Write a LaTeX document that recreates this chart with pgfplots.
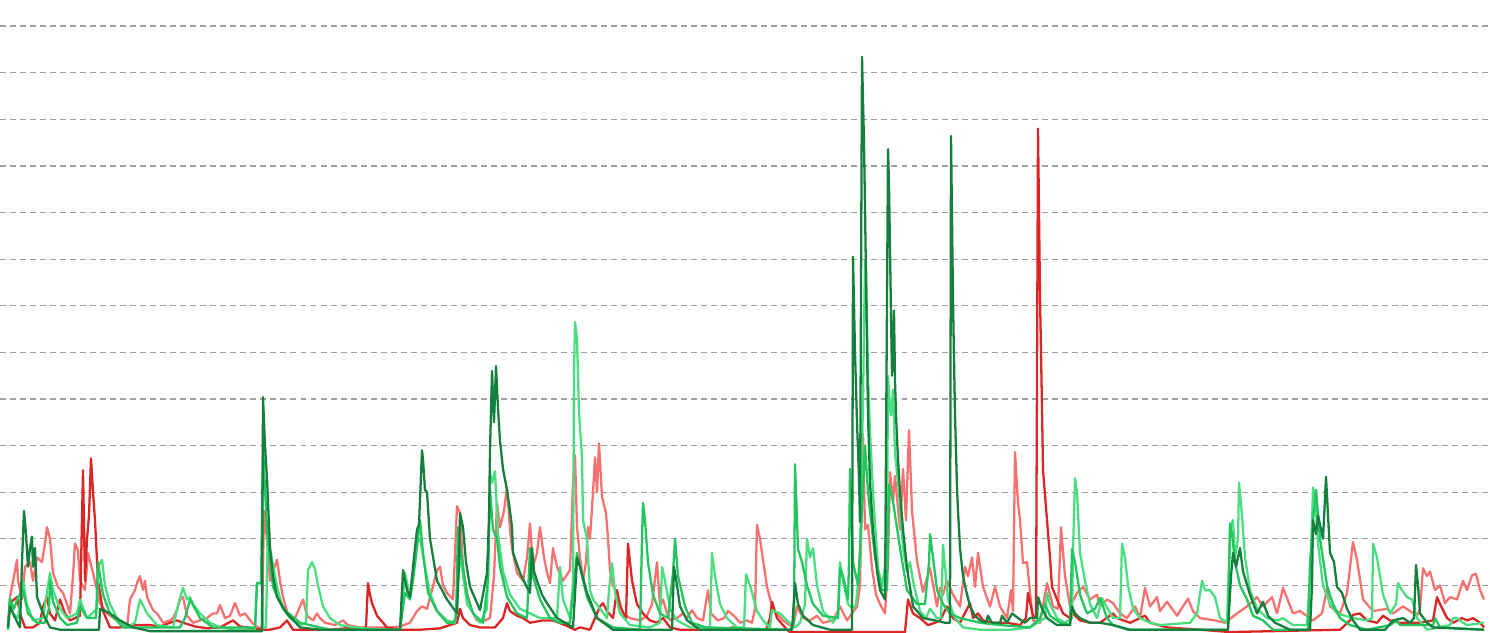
\documentclass[border=0pt]{standalone}
\usepackage{pgfplots}
\pgfplotsset{compat=1.18}
\definecolor{lred}{HTML}{F87171}
\definecolor{dred}{HTML}{DC2626}
\definecolor{lgreen}{HTML}{4ADE80}
\definecolor{mgreen}{HTML}{22C55E}
\definecolor{dgreen}{HTML}{15803D}
\begin{document}
\begin{tikzpicture}[trim axis left, trim axis right]
\begin{axis}[
  scale only axis,
  width=14.9cm, height=6.33cm,
  xmin=0, xmax=1490, ymin=-0.02, ymax=13.56,
  axis line style={draw=none},
  major tick length=0pt,
  xtick=\empty,
  ytick={1,...,13}, yticklabels={},
  yticklabel style={overlay},
  ymajorgrids,
  grid style={gray!75, line width=0.35pt, dash pattern=on 1.7pt off 1.15pt},
  every axis plot/.append style={line width=0.65pt, line join=round, mark=none},
  clip=true,
]
% light red
\addplot[lred] coordinates {
(8,0.1)(10,0.75)(14,1.2)(17,1.55)(18,1.1)(22,0.7)(25,1.4)(30,1.5)(33,1.1)(37,1.6)(42,1.5)(45,1.9)(47,2.25)(50,2.0)(53,1.27)(58,0.97)(63,0.84)(67,0.6)(70,0.4)(73,1.2)(75,1.9)(78,1.75)(80,1.1)(85,0.9)(88,1.7)(93,1.27)(100,0.62)(107,0.4)(117,0.25)(127,0.1)(130,0.7)(135,0.9)(137,1.05)(140,1.2)(143,0.9)(145,1.1)(147,0.75)(153,0.47)(157,0.4)(163,0.2)(170,0.25)(173,0.3)(177,0.47)(180,0.7)(183,0.75)(187,0.35)(193,0.2)(200,0.25)(207,0.3)(213,0.4)(217,0.4)(220,0.58)(225,0.3)(230,0.35)(235,0.62)(240,0.35)(245,0.4)(252,0.2)(258,0.1)(262,0.1)(264,2.6)(267,2.0)(270,1.1)(273,1.3)(277,1.55)(280,1.1)(283,0.75)(287,0.45)(290,0.3)(295,0.3)(300,0.55)(303,0.7)(307,0.35)(313,0.25)(317,0.4)(320,0.3)(325,0.2)(335,0.15)(343,0.25)(348,0.15)(360,0.1)(375,0.1)(390,0.1)(400,0.12)(410,0.2)(417,0.45)(422,0.55)(427,0.5)(432,0.9)(437,1.33)(440,1.4)(443,1.0)(447,0.84)(453,0.7)(457,2.7)(460,2.55)(463,1.4)(467,0.84)(472,0.45)(477,0.25)(485,0.25)(490,0.3)(494,1.2)(497,2.76)(500,2.25)(504,2.6)(507,3.1)(510,2.2)(512,1.8)(517,1.27)(523,1.1)(527,1.6)(530,2.33)(533,1.4)(537,1.7)(540,2.25)(544,1.6)(547,1.27)(550,1.05)(553,1.8)(557,1.4)(563,1.1)(570,1.33)(573,3.2)(575,3.8)(577,2.25)(580,1.6)(583,1.1)(586,1.5)(588,2.25)(590,2.0)(593,3.0)(595,3.75)(597,3.0)(599,4.05)(602,2.9)(606,2.55)(608,2.0)(610,1.33)(613,1.0)(617,0.84)(623,0.4)(630,0.3)(640,0.25)(647,0.35)(652,0.6)(657,1.5)(660,0.55)(663,0.7)(667,0.4)(670,0.25)(677,0.3)(683,0.4)(687,0.3)(692,0.47)(697,0.3)(703,0.25)(708,0.9)(711,0.4)(718,0.25)(724,0.3)(728,0.45)(734,0.35)(740,0.2)(747,0.25)(752,0.2)(755,0.5)(757,2.3)(760,2.0)(762,1.7)(767,0.97)(773,0.47)(783,0.25)(793,0.1)(797,0.55)(803,0.3)(810,0.25)(817,0.35)(823,0.2)(833,0.25)(840,0.55)(847,0.25)(857,0.55)(860,1.0)(863,4.25)(865,2.2)(868,2.3)(872,1.37)(876,0.8)(880,0.6)(885,0.4)(888,1.5)(890,3.43)(893,2.8)(895,3.35)(900,2.2)(903,3.5)(906,2.4)(909,4.33)(912,2.6)(917,1.52)(923,0.86)(930,1.37)(937,0.55)(940,0.95)(943,0.8)(947,1.1)(953,0.8)(960,0.55)(965,1.4)(968,1.2)(972,1.6)(975,0.97)(978,1.7)(983,0.97)(990,0.55)(995,0.97)(1000,0.55)(1007,0.3)(1011,0.9)(1013,0.45)(1015,3.86)(1018,2.77)(1020,2.4)(1023,1.48)(1027,1.5)(1030,0.84)(1033,0.25)(1040,0.2)(1047,1.05)(1053,0.55)(1058,0.5)(1061,2.25)(1065,1.2)(1070,0.55)(1077,0.84)(1083,0.97)(1090,0.7)(1097,0.8)(1100,0.55)(1107,0.7)(1113,0.62)(1120,0.4)(1127,0.3)(1135,0.55)(1140,0.3)(1145,0.95)(1150,0.55)(1157,0.75)(1160,0.45)(1167,0.65)(1177,0.35)(1188,0.72)(1193,0.45)(1200,0.3)(1215,0.25)(1225,0.2)(1237,0.4)(1247,0.55)(1257,0.75)(1263,0.55)(1272,0.75)(1277,0.4)(1283,0.95)(1293,0.4)(1300,0.45)(1313,0.25)(1322,0.4)(1327,0.95)(1330,0.55)(1340,0.4)(1347,0.84)(1353,1.93)(1357,1.55)(1363,0.7)(1373,0.45)(1387,0.5)(1393,0.4)(1403,0.55)(1410,0.45)(1417,0.35)(1420,0.5)(1423,1.37)(1427,1.2)(1430,1.3)(1435,0.9)(1440,1.0)(1445,0.62)(1450,0.75)(1457,0.7)(1463,1.1)(1467,0.9)(1472,1.22)(1476,1.25)(1480,0.9)(1484,0.7)
};
% dark red
\addplot[dred] coordinates {
(8,0.1)(10,0.62)(14,0.7)(17,0.75)(20,0.4)(25,0.1)(33,0.1)(40,0.2)(43,0.55)(47,0.75)(50,0.4)(55,0.25)(60,0.7)(65,0.4)(70,0.25)(80,0.35)(83,3.47)(85,1.1)(87,2.0)(89,2.5)(91,3.73)(93,3.0)(95,2.4)(98,1.1)(103,0.45)(110,0.1)(120,0.1)(130,0.15)(140,0.15)(150,0.15)(160,0.12)(170,0.2)(177,0.25)(183,0.2)(195,0.12)(207,0.08)(220,0.1)(233,0.25)(240,0.12)(253,0.08)(263,0.05)(270,0.05)(280,0.1)(287,0.25)(293,0.05)(310,0.05)(330,0.05)(345,0.08)(360,0.08)(366,0.1)(368,1.05)(370,0.8)(372,0.62)(377,0.35)(387,0.1)(400,0.05)(420,0.05)(440,0.08)(457,0.2)(460,0.5)(463,0.3)(470,0.15)(480,0.1)(495,0.1)(503,0.3)(507,0.62)(510,0.45)(517,0.35)(523,0.3)(530,0.2)(543,0.25)(553,0.25)(565,0.15)(575,0.05)(580,0.1)(590,0.05)(600,0.55)(603,0.62)(607,0.45)(613,0.3)(617,0.9)(620,0.55)(626,0.3)(628,1.9)(632,1.1)(637,0.6)(643,0.4)(650,0.25)(657,0.2)(663,0.3)(670,0.1)(680,0.05)(700,0.05)(720,0.05)(733,0.1)(745,0.05)(766,0.05)(770,0.3)(772,0.65)(777,0.3)(787,0.05)(790,0.0)(905,0.0)(908,0.7)(913,0.4)(920,0.3)(928,0.15)(935,0.2)(940,0.25)(947,0.55)(953,0.3)(960,0.2)(970,0.62)(973,0.3)(978,0.4)(983,0.25)(993,0.2)(1007,0.2)(1020,0.15)(1026,0.3)(1028,0.84)(1033,0.35)(1036,0.3)(1038,10.8)(1040,7.2)(1042,4.8)(1043,3.47)(1047,2.4)(1050,1.6)(1052,0.97)(1057,0.7)(1063,0.4)(1070,0.3)(1073,0.4)(1080,0.25)(1090,0.2)(1100,0.2)(1113,0.4)(1117,0.3)(1130,0.2)(1145,0.35)(1150,0.2)(1167,0.1)(1200,0.05)(1230,0.0)(1340,0.05)(1350,0.25)(1353,0.37)(1360,0.4)(1367,0.25)(1377,0.2)(1383,0.35)(1390,0.25)(1400,0.2)(1420,0.2)(1433,0.25)(1437,0.75)(1440,0.6)(1447,0.3)(1453,0.2)(1462,0.3)(1467,0.25)(1473,0.3)(1480,0.2)(1484,0.1)
};
% light green
\addplot[lgreen] coordinates {
(8,0.1)(10,0.75)(13,0.4)(18,0.3)(23,1.1)(27,0.6)(33,0.25)(43,0.3)(50,1.27)(53,0.9)(60,0.5)(67,0.3)(77,0.4)(80,0.7)(87,0.3)(97,0.5)(98,1.4)(102,1.55)(105,1.0)(110,0.6)(117,0.3)(127,0.1)(135,0.2)(140,0.7)(147,0.4)(157,0.15)(173,0.1)(178,0.58)(183,0.95)(187,0.7)(190,0.75)(193,0.6)(200,0.4)(210,0.2)(220,0.1)(237,0.05)(255,0.05)(257,1.05)(262,1.05)(263,0.1)(266,0.1)(268,2.4)(270,1.8)(277,0.97)(283,0.5)(290,0.3)(300,0.15)(306,0.2)(308,1.33)(312,1.5)(315,1.35)(318,1.0)(323,0.55)(330,0.3)(340,0.15)(355,0.1)(380,0.05)(400,0.05)(405,1.27)(410,0.75)(417,2.0)(420,2.0)(425,1.4)(430,0.84)(437,0.45)(447,0.25)(455,0.2)(460,1.7)(467,0.6)(480,0.2)(487,0.5)(490,3.4)(492,3.2)(495,3.45)(498,2.1)(503,1.3)(510,0.8)(520,0.5)(530,0.4)(540,0.3)(557,0.3)(560,1.4)(563,0.7)(570,0.3)(573,1.0)(574,5.5)(575,6.65)(577,6.3)(579,4.7)(582,3.75)(583,2.4)(587,2.0)(590,0.9)(593,0.7)(600,0.5)(607,0.3)(609,0.9)(612,1.48)(615,0.85)(620,0.4)(630,0.15)(650,0.1)(660,0.2)(662,1.4)(665,1.1)(670,0.5)(677,0.25)(690,0.1)(710,0.1)(712,1.7)(715,1.2)(720,0.6)(727,0.3)(737,0.1)(744,0.1)(746,1.24)(750,1.0)(757,0.45)(763,0.25)(770,0.1)(772,0.47)(780,0.4)(787,0.25)(795,0.1)(800,0.2)(805,0.6)(807,2.0)(810,1.6)(813,1.8)(817,1.0)(823,0.45)(833,0.2)(838,0.4)(840,1.5)(843,1.1)(848,0.6)(853,0.5)(856,0.6)(860,1.5)(863,5.0)(865,7.96)(866,7.8)(868,5.5)(870,4.3)(873,3.0)(878,1.37)(882,1.0)(885,1.4)(887,2.2)(888,5.5)(890,4.8)(891,4.65)(893,5.2)(895,3.84)(899,3.0)(903,1.8)(907,1.3)(910,1.5)(913,1.1)(920,0.45)(926,0.3)(930,0.5)(937,0.3)(941,0.3)(943,1.87)(945,1.4)(948,0.7)(955,0.3)(963,0.1)(980,0.05)(1010,0.05)(1030,0.1)(1045,0.3)(1047,0.84)(1050,0.6)(1057,0.3)(1065,0.2)(1072,0.3)(1073,1.76)(1075,3.3)(1077,3.0)(1080,1.7)(1085,1.1)(1090,0.6)(1097,0.3)(1102,0.73)(1105,0.6)(1113,0.3)(1120,0.3)(1122,1.9)(1125,1.6)(1128,1.0)(1133,0.5)(1140,0.3)(1150,0.2)(1160,0.15)(1190,0.2)(1197,0.4)(1202,1.1)(1205,0.9)(1210,0.9)(1215,0.75)(1220,0.3)(1227,0.2)(1229,1.5)(1230,2.25)(1233,2.4)(1235,1.6)(1238,2.0)(1239,3.2)(1242,2.5)(1245,1.6)(1250,0.9)(1257,0.5)(1267,0.3)(1278,0.25)(1283,0.3)(1293,0.15)(1307,0.15)(1311,1.5)(1313,3.1)(1315,2.9)(1318,1.9)(1323,1.0)(1330,0.6)(1337,0.4)(1353,0.3)(1367,0.25)(1372,0.3)(1373,1.9)(1377,1.6)(1383,0.8)(1390,0.4)(1396,0.6)(1398,1.05)(1402,0.9)(1407,0.75)(1412,0.7)(1417,0.3)(1427,0.05)(1450,0.15)(1453,0.3)(1457,0.3)(1463,0.2)(1467,0.15)(1484,0.2)
};
% medium green
\addplot[mgreen] coordinates {
(8,0.05)(10,0.7)(14,0.5)(18,0.75)(23,0.9)(28,0.4)(37,0.2)(45,0.2)(49,0.5)(50,1.1)(53,0.65)(60,0.3)(67,0.15)(77,0.2)(80,0.55)(87,0.3)(96,0.3)(98,1.5)(103,0.8)(110,0.4)(123,0.1)(180,0.1)(185,0.3)(190,0.7)(195,0.5)(200,0.3)(213,0.1)(255,0.1)(257,1.05)(261,1.05)(263,3.97)(267,2.2)(273,0.97)(283,0.5)(300,0.2)(310,0.15)(330,0.05)(400,0.05)(405,0.84)(410,0.7)(413,1.1)(418,2.0)(420,2.4)(423,1.7)(428,0.84)(437,0.45)(447,0.2)(453,0.2)(456,0.3)(458,2.25)(461,1.7)(467,0.8)(473,0.4)(483,0.2)(488,1.1)(490,3.05)(493,2.2)(497,2.0)(500,1.4)(507,0.75)(517,0.4)(527,0.3)(530,1.8)(533,1.2)(540,0.7)(550,0.3)(560,0.2)(570,0.2)(573,0.84)(577,1.7)(580,1.4)(587,0.75)(597,0.3)(613,0.1)(640,0.05)(642,2.0)(643,2.77)(645,2.4)(648,1.5)(653,0.8)(660,0.4)(668,0.3)(673,1.27)(675,2.0)(678,1.2)(685,0.55)(692,0.2)(706,0.1)(790,0.05)(794,0.2)(795,3.6)(798,1.78)(802,1.5)(807,1.0)(813,0.6)(823,0.35)(838,0.3)(840,1.37)(843,1.2)(848,0.7)(849,1.5)(850,3.5)(853,1.5)(858,1.0)(862,2.6)(865,4.0)(868,3.0)(875,1.6)(882,0.9)(887,0.9)(889,3.17)(893,2.8)(900,1.8)(907,0.9)(917,0.6)(925,0.6)(929,1.5)(930,2.1)(933,1.6)(937,0.9)(943,0.6)(950,0.4)(960,0.3)(980,0.2)(1000,0.15)(1030,0.1)(1040,0.3)(1045,0.6)(1050,0.35)(1060,0.2)(1070,0.15)(1072,1.78)(1075,1.5)(1080,0.8)(1087,0.4)(1095,0.5)(1100,0.73)(1103,0.55)(1107,0.3)(1113,0.15)(1128,0.05)(1228,0.05)(1230,2.33)(1232,2.1)(1235,1.5)(1240,1.0)(1247,0.7)(1253,0.35)(1263,0.25)(1273,0.05)(1308,0.05)(1310,1.48)(1313,2.4)(1316,3.05)(1320,2.0)(1327,1.0)(1333,0.6)(1340,0.3)(1350,0.15)(1367,0.05)(1390,0.15)(1397,0.25)(1400,0.15)(1433,0.15)(1435,0.3)(1440,0.1)(1484,0.05)
};
% dark green
\addplot[dgreen] coordinates {
(8,0.1)(10,0.55)(14,0.35)(20,0.1)(22,1.5)(24,2.6)(26,2.1)(28,1.4)(30,1.8)(32,2.05)(33,1.4)(35,1.8)(37,0.75)(43,0.4)(50,0.1)(60,0.05)(99,0.05)(100,0.5)(105,0.45)(110,0.4)(120,0.25)(133,0.1)(150,0.02)(262,0.02)(263,5.04)(265,4.0)(267,3.3)(270,1.8)(273,1.2)(277,0.75)(287,0.4)(300,0.1)(320,0.05)(400,0.05)(403,1.33)(407,0.9)(410,0.75)(414,1.6)(417,2.2)(419,2.3)(422,3.9)(423,3.7)(425,3.05)(427,3.0)(430,2.0)(437,1.1)(447,0.7)(452,0.55)(457,0.4)(459,1.5)(460,2.55)(463,2.25)(466,1.5)(470,0.97)(480,0.47)(487,1.27)(489,2.4)(490,3.9)(492,5.6)(494,4.5)(496,5.7)(498,4.8)(500,4.1)(503,3.5)(507,3.05)(510,2.6)(512,2.25)(513,1.7)(520,1.27)(526,1.0)(530,0.84)(532,1.8)(534,1.3)(537,1.1)(542,0.8)(547,0.62)(557,0.3)(573,0.1)(575,0.8)(577,1.6)(580,1.4)(587,0.84)(597,0.3)(613,0.05)(650,0.05)(672,0.05)(674,1.4)(677,1.0)(680,0.55)(687,0.25)(700,0.05)(792,0.05)(795,1.05)(798,0.6)(803,0.35)(813,0.15)(830,0.05)(852,0.05)(853,8.05)(855,6.0)(857,4.5)(859,3.3)(860,2.36)(862,12.34)(864,10.5)(865,9.1)(866,7.6)(868,4.65)(870,3.2)(873,2.2)(877,1.3)(880,0.9)(885,0.7)(888,10.36)(889,9.6)(891,6.8)(892,5.5)(893,6.3)(894,6.9)(895,5.4)(896,4.65)(898,3.7)(900,3.0)(903,2.2)(907,1.37)(913,0.55)(923,0.3)(935,0.25)(945,0.2)(950,0.2)(951,10.64)(953,7.1)(955,4.65)(957,3.1)(958,2.6)(960,1.8)(963,1.2)(966,0.9)(970,0.55)(975,0.35)(980,0.25)(986,0.2)(988,0.35)(992,0.2)(1000,0.2)(1002,0.35)(1007,0.2)(1012,0.4)(1018,0.3)(1025,0.2)(1030,0.3)(1037,0.3)(1038,0.75)(1042,0.5)(1047,0.3)(1057,0.15)(1070,0.15)(1072,0.55)(1075,0.4)(1080,0.3)(1090,0.2)(1100,0.2)(1113,0.15)(1130,0.05)(1228,0.05)(1231,1.2)(1233,1.7)(1236,1.4)(1240,1.8)(1243,1.3)(1250,0.8)(1257,0.4)(1263,0.65)(1268,0.35)(1275,0.2)(1290,0.05)(1310,0.05)(1312,1.0)(1313,2.4)(1316,2.1)(1318,2.5)(1320,2.3)(1323,2.0)(1326,3.33)(1328,2.5)(1330,1.7)(1334,1.5)(1337,0.97)(1342,0.84)(1347,0.5)(1353,0.25)(1360,0.05)(1385,0.05)(1393,0.25)(1403,0.3)(1410,0.2)(1414,0.3)(1416,1.44)(1418,1.0)(1420,0.4)(1427,0.2)(1433,0.1)(1484,0.05)
};
\end{axis}
\end{tikzpicture}
\end{document}
